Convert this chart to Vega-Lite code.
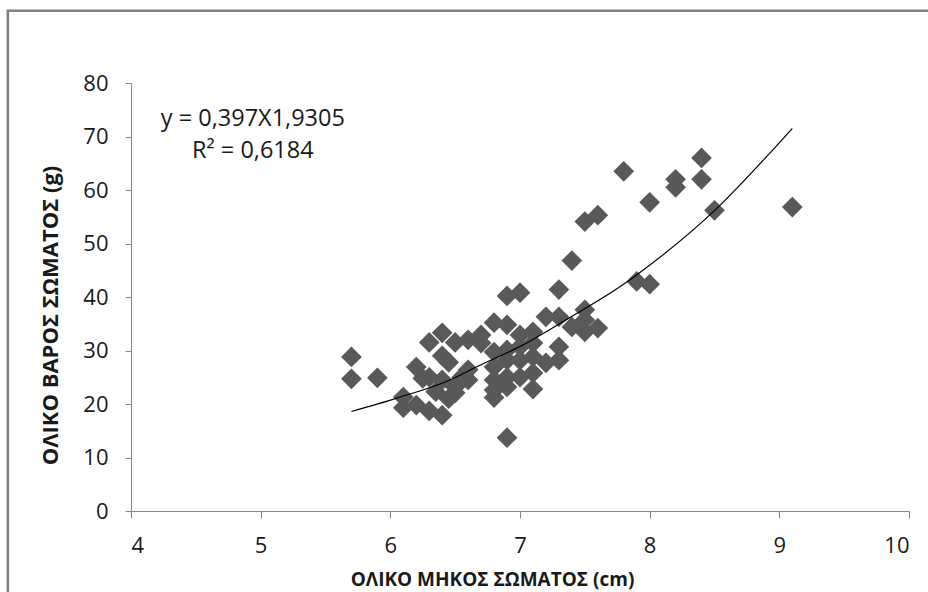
{
  "$schema": "https://vega.github.io/schema/vega-lite/v6.json",
  "width": 778,
  "height": 428,
  "autosize": "none",
  "padding": {"left": 131, "top": 83, "right": 19, "bottom": 81},
  "background": "white",
  "config": {
    "view": {"stroke": null},
    "font": "Open Sans",
    "axis": {
      "domainColor": "#868686",
      "tickColor": "#868686",
      "domainWidth": 1,
      "tickWidth": 1,
      "tickSize": 7,
      "grid": false,
      "labelFont": "Open Sans",
      "labelFontSize": 22,
      "labelColor": "#1a1a1a",
      "titleFont": "Open Sans",
      "titleFontWeight": "bold",
      "titleColor": "#1a1a1a"
    }
  },
  "datasets": {
    "fish": [
      {"length": 5.7, "weight": 28.8}, {"length": 5.7, "weight": 24.7}, {"length": 5.9, "weight": 24.9},
      {"length": 6.1, "weight": 21.3}, {"length": 6.1, "weight": 19.3}, {"length": 6.2, "weight": 26.9},
      {"length": 6.2, "weight": 19.8}, {"length": 6.25, "weight": 24.8}, {"length": 6.3, "weight": 31.5},
      {"length": 6.3, "weight": 18.7}, {"length": 6.3, "weight": 25.0}, {"length": 6.35, "weight": 22.3},
      {"length": 6.4, "weight": 33.3}, {"length": 6.4, "weight": 29.0}, {"length": 6.4, "weight": 17.9},
      {"length": 6.4, "weight": 24.5}, {"length": 6.45, "weight": 27.8}, {"length": 6.45, "weight": 21.0},
      {"length": 6.5, "weight": 31.5}, {"length": 6.5, "weight": 23.2}, {"length": 6.5, "weight": 22.1},
      {"length": 6.55, "weight": 25.0}, {"length": 6.6, "weight": 32.0}, {"length": 6.6, "weight": 26.4},
      {"length": 6.6, "weight": 24.5}, {"length": 6.7, "weight": 32.9}, {"length": 6.7, "weight": 31.4},
      {"length": 6.8, "weight": 35.2}, {"length": 6.8, "weight": 29.7}, {"length": 6.8, "weight": 26.9},
      {"length": 6.8, "weight": 24.5}, {"length": 6.8, "weight": 22.6}, {"length": 6.8, "weight": 21.2},
      {"length": 6.9, "weight": 40.2}, {"length": 6.9, "weight": 34.8}, {"length": 6.9, "weight": 30.1},
      {"length": 6.9, "weight": 28.2}, {"length": 6.9, "weight": 25.0}, {"length": 6.9, "weight": 23.2},
      {"length": 6.9, "weight": 13.7}, {"length": 7.0, "weight": 40.8}, {"length": 7.0, "weight": 32.9},
      {"length": 7.0, "weight": 30.7}, {"length": 7.0, "weight": 28.2}, {"length": 7.0, "weight": 25.0},
      {"length": 7.1, "weight": 33.5}, {"length": 7.1, "weight": 31.4}, {"length": 7.1, "weight": 28.8},
      {"length": 7.1, "weight": 25.8}, {"length": 7.1, "weight": 22.8}, {"length": 7.2, "weight": 36.3},
      {"length": 7.2, "weight": 27.7}, {"length": 7.3, "weight": 41.4}, {"length": 7.3, "weight": 36.3},
      {"length": 7.3, "weight": 30.7}, {"length": 7.3, "weight": 28.2}, {"length": 7.4, "weight": 46.8},
      {"length": 7.4, "weight": 34.4}, {"length": 7.5, "weight": 54.1}, {"length": 7.5, "weight": 37.6},
      {"length": 7.5, "weight": 35.7}, {"length": 7.5, "weight": 33.5}, {"length": 7.6, "weight": 55.3},
      {"length": 7.6, "weight": 34.2}, {"length": 7.8, "weight": 63.5}, {"length": 7.9, "weight": 42.9},
      {"length": 8.0, "weight": 57.7}, {"length": 8.0, "weight": 42.4}, {"length": 8.2, "weight": 62.0},
      {"length": 8.2, "weight": 60.5}, {"length": 8.4, "weight": 66.0}, {"length": 8.4, "weight": 62.0},
      {"length": 8.5, "weight": 56.2}, {"length": 9.1, "weight": 56.8}
    ],
    "trend": [
      {"length": 5.7, "weight": 18.6}, {"length": 6.05, "weight": 21.1}, {"length": 6.46, "weight": 24.5},
      {"length": 6.67, "weight": 27.0}, {"length": 7.02, "weight": 31.0}, {"length": 7.38, "weight": 36.1},
      {"length": 7.77, "weight": 41.9}, {"length": 7.92, "weight": 44.5}, {"length": 8.52, "weight": 56.6},
      {"length": 8.95, "weight": 67.5}, {"length": 9.1, "weight": 71.5}
    ]
  },
  "layer": [
    {
      "data": {"values": [{}]},
      "mark": {"type": "rect", "fill": null, "stroke": "#808080", "strokeWidth": 2.5, "clip": false},
      "encoding": {
        "x": {"datum": 3.05, "type": "quantitative", "scale": {"domain": [4, 10]}},
        "x2": {"datum": 10.4},
        "y": {"datum": 93.5, "type": "quantitative", "scale": {"domain": [0, 80]}},
        "y2": {"datum": -18}
      }
    },
    {
      "data": {"name": "fish"},
      "mark": {"type": "point", "shape": "diamond", "filled": true, "color": "#595959", "opacity": 1, "size": 430},
      "encoding": {
        "x": {
          "field": "length", "type": "quantitative",
          "scale": {"domain": [4, 10], "nice": false, "zero": false},
          "axis": {
            "values": [4, 5, 6, 7, 8, 9, 10], "format": "d", "labelPadding": 17,
            "title": "ΟΛΙΚΟ ΜΗΚΟΣ ΣΩΜΑΤΟΣ (cm)", "titleFontSize": 19,
            "titleX": 361, "titleY": 68, "titleAlign": "center", "titleBaseline": "middle"
          }
        },
        "y": {
          "field": "weight", "type": "quantitative",
          "scale": {"domain": [0, 80], "nice": false},
          "axis": {
            "values": [0, 10, 20, 30, 40, 50, 60, 70, 80], "tickSize": 6, "labelPadding": 17,
            "title": "ΟΛΙΚΟ ΒΑΡΟΣ ΣΩΜΑΤΟΣ (g)", "titleFontSize": 22,
            "titleX": -81, "titleY": 232, "titleAlign": "center", "titleBaseline": "middle", "titleAngle": -90
          }
        }
      }
    },
    {
      "data": {"name": "trend"},
      "mark": {"type": "line", "color": "#000000", "strokeWidth": 1.2, "interpolate": "monotone"},
      "encoding": {
        "x": {"field": "length", "type": "quantitative"},
        "y": {"field": "weight", "type": "quantitative"}
      }
    },
    {
      "data": {"values": [{}]},
      "mark": {"type": "text", "text": "y = 0,397X1,9305", "align": "center", "baseline": "middle", "fontSize": 23.5, "color": "#1a1a1a"},
      "encoding": {
        "x": {"datum": 4.94, "type": "quantitative"},
        "y": {"datum": 73.3, "type": "quantitative"}
      }
    },
    {
      "data": {"values": [{}]},
      "mark": {"type": "text", "text": "R² = 0,6184", "align": "center", "baseline": "middle", "fontSize": 23.5, "color": "#1a1a1a"},
      "encoding": {
        "x": {"datum": 4.94, "type": "quantitative"},
        "y": {"datum": 67.3, "type": "quantitative"}
      }
    }
  ]
}
